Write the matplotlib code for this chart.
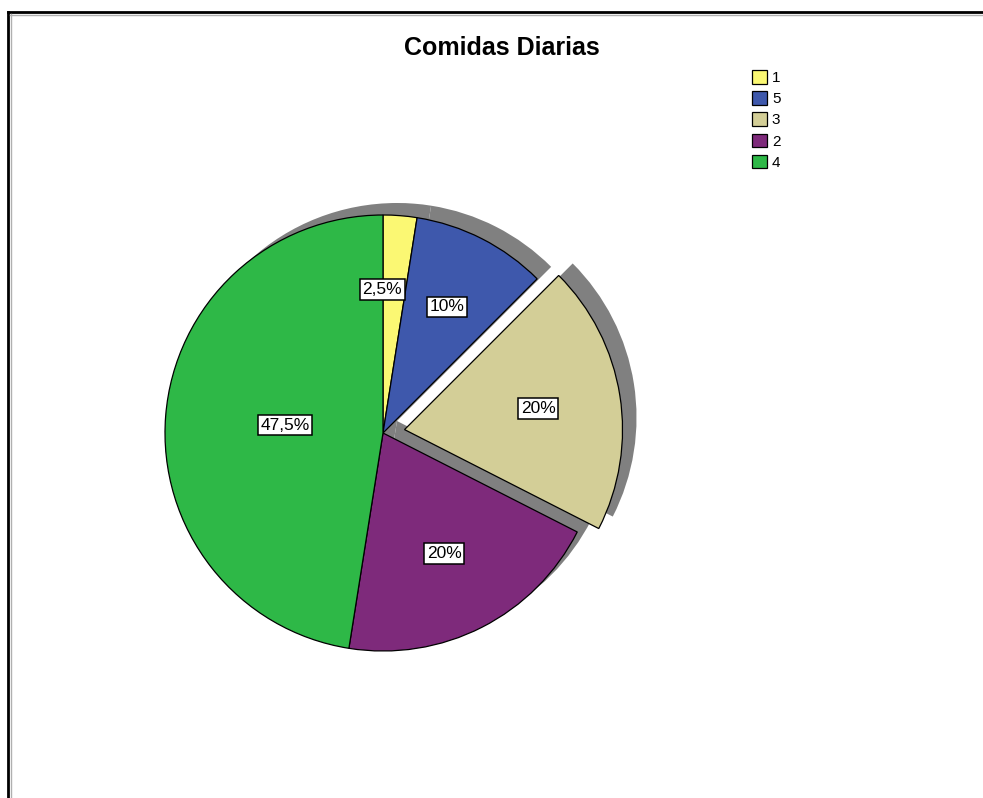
import numpy as np
import matplotlib
matplotlib.use("Agg")
from matplotlib import pyplot as plt
from matplotlib.lines import Line2D

# datos del grafico
categorias = ["1", "5", "3", "2", "4"]
porcentajes = [2.5, 10, 20, 20, 47.5]
colores = ["#FBF873", "#3E58AC", "#D3CE97", "#7E2A7B", "#2EB847"]
separacion = [0, 0, 0.1, 0, 0]
titulo = "Comidas Diarias"

plt.rcParams["font.family"] = ["Liberation Sans", "DejaVu Sans"]

W, H = 983, 798
R = 218.0          # radio en pixeles
cx, cy = 383, 433  # centro en pixeles

fig = plt.figure(figsize=(W / 100, H / 100), dpi=100)
ax = fig.add_axes([0, 0, 1, 1])

# sombra gris desplazada arriba a la derecha
ax.pie(porcentajes, explode=separacion, colors=["#808080"] * 5,
       startangle=90, counterclock=False, center=(14 / R, 12 / R),
       wedgeprops=dict(linewidth=0))

wedges, _ = ax.pie(porcentajes, explode=separacion, colors=colores,
                   startangle=90, counterclock=False,
                   wedgeprops=dict(edgecolor="black", linewidth=0.9))

ax.set_xlim(-cx / R, (W - cx) / R)
ax.set_ylim((cy - H) / R, cy / R)
ax.set_aspect("equal")
ax.axis("off")

# etiquetas con caja blanca
dist = [0.66, 0.65, 0.62, 0.62, 0.45]
for w, p, d in zip(wedges, porcentajes, dist):
    ang = np.deg2rad((w.theta1 + w.theta2) / 2)
    x = w.center[0] + d * np.cos(ang)
    y = w.center[1] + d * np.sin(ang)
    if p < 5:
        x -= 12 / R  # etiqueta pequeña algo a la izquierda
    txt = f"{p:g}".replace(".", ",") + "%"
    ax.text(x, y, txt, ha="center", va="center", fontsize=12.5,
            bbox=dict(boxstyle="square,pad=0.15", facecolor="white",
                      edgecolor="black", linewidth=1.1))

fig.text(502 / W, 1 - 48 / H, titulo, ha="center", va="center",
         fontsize=18, fontweight="bold")

fig.legend(wedges, categorias, loc="upper left",
           bbox_to_anchor=(752 / W, 1 - 70 / H), frameon=False,
           handlelength=1.0, handleheight=1.0, handletextpad=0.3,
           labelspacing=0.4, borderpad=0, borderaxespad=0, fontsize=11)

# marco superior e izquierdo
fig.add_artist(Line2D([8 / W, 1], [1 - 12 / H, 1 - 12 / H], color="black", lw=2))
fig.add_artist(Line2D([8 / W, 8 / W], [1 - 12 / H, 0], color="black", lw=2))
fig.add_artist(Line2D([10 / W, 1], [1 - 14.5 / H, 1 - 14.5 / H], color="#b0b0b0", lw=1))
fig.add_artist(Line2D([10.5 / W, 10.5 / W], [1 - 14 / H, 0], color="#b0b0b0", lw=1))

fig.savefig("out.png", dpi=100)
